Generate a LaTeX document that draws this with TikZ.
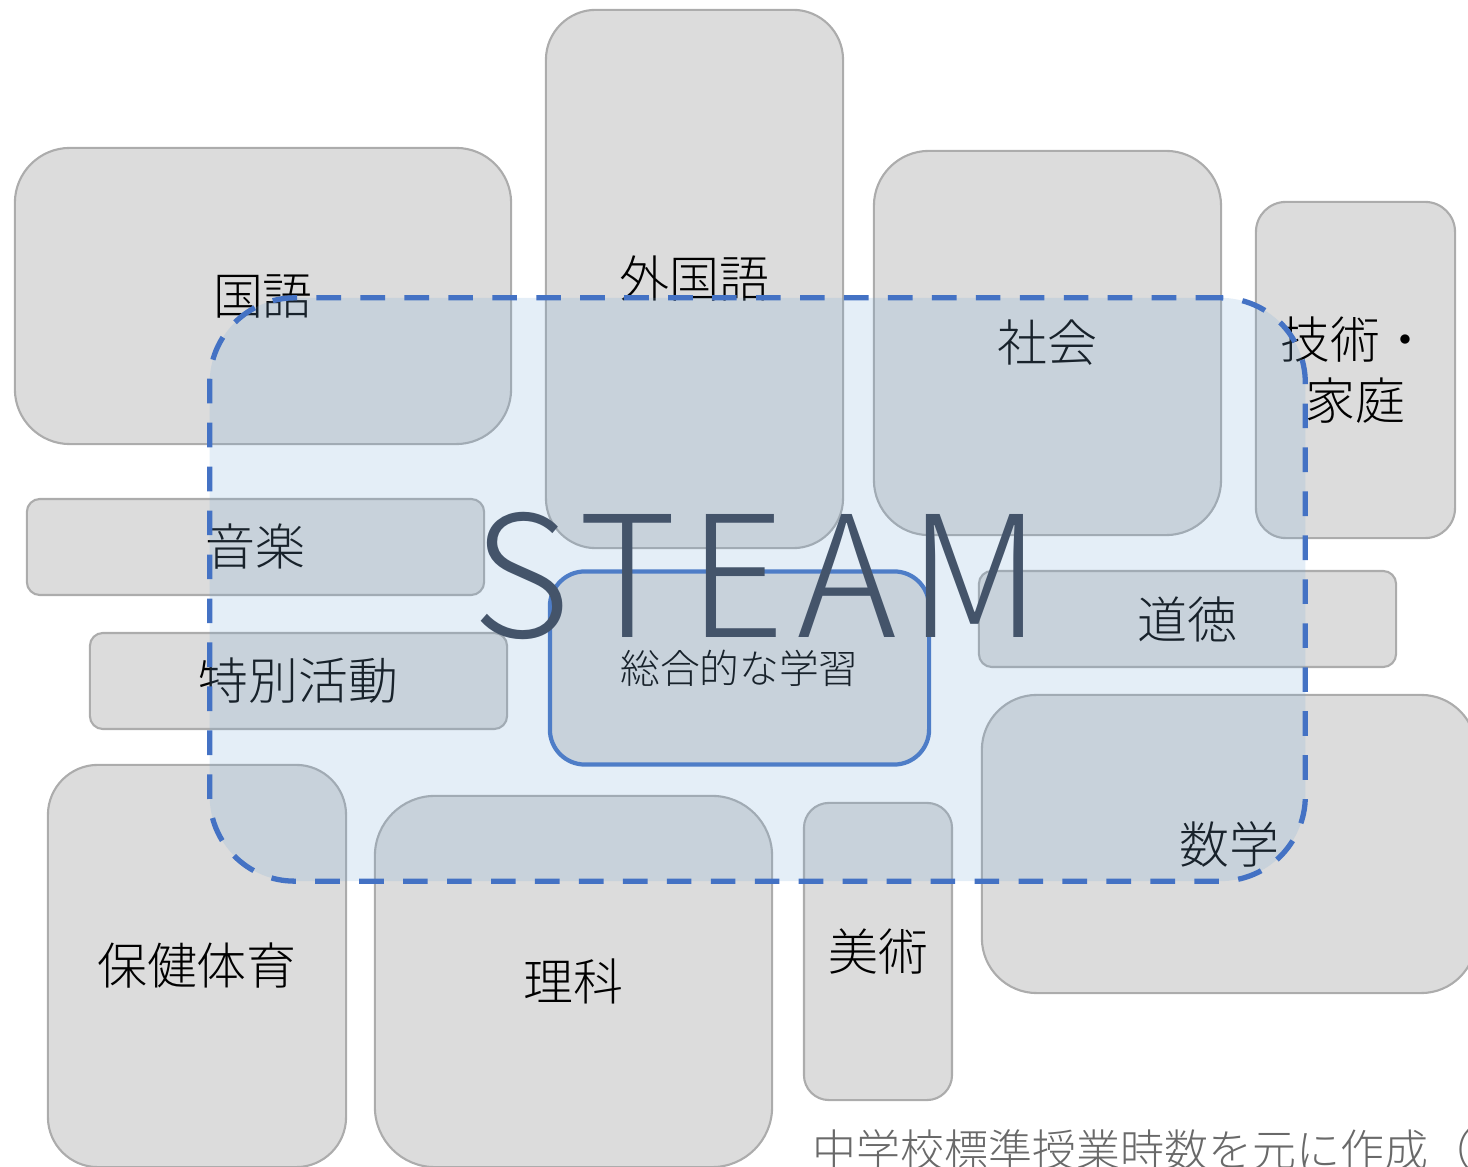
\documentclass[tikz,border=0pt]{standalone}
\usepackage{fontspec}
\setmainfont{Noto Sans CJK JP Light}
\newfontfamily\steamfont[LetterSpace=7]{Noto Sans CJK JP Light}
\definecolor{boxgray}{RGB}{220,220,220}
\definecolor{boxline}{RGB}{172,172,172}
\definecolor{steamblue}{RGB}{68,114,196}
\definecolor{steamfill}{RGB}{120,170,215}
\definecolor{steamtext}{RGB}{68,84,106}
\definecolor{notegray}{RGB}{105,105,105}

\begin{document}
\begin{tikzpicture}[x=0.01cm,y=-0.01cm,
    subject/.style={draw=boxline, line width=0.6pt, fill=boxgray, inner sep=0pt,
      font=\fontsize{14.2pt}{17.3pt}\selectfont},
    steamarea/.style={draw=steamblue, line width=1.5pt, dash pattern=on 7pt off 5.5pt,
      fill=steamfill, fill opacity=0.2, rounded corners=0.85cm, inner sep=0pt},
  ]
  \useasboundingbox (0,0) rectangle (1468,1167);

  \node[subject, minimum width=4.96cm, minimum height=2.96cm, rounded corners=0.55cm] (kokugo) at (263,296) {国語};
  \node[subject, minimum width=2.97cm, minimum height=5.38cm, rounded corners=0.5cm] (gaikokugo) at (694.5,279) {外国語};
  \node[subject, minimum width=3.47cm, minimum height=3.84cm, rounded corners=0.55cm] (shakai) at (1047.5,343) {社会};
  \node[subject, minimum width=1.99cm, minimum height=3.36cm, rounded corners=0.3cm, align=center] (gika) at (1355.5,370) {技術・\\家庭};
  \node[subject, minimum width=4.57cm, minimum height=0.96cm, rounded corners=0.13cm] (ongaku) at (255.5,547) {音楽};
  \node[subject, minimum width=4.17cm, minimum height=0.96cm, rounded corners=0.13cm] (tokkatsu) at (298.5,681) {特別活動};
  \node[subject, minimum width=4.17cm, minimum height=0.96cm, rounded corners=0.13cm] (doutoku) at (1187.5,619) {道徳};
  \node[subject, minimum width=4.94cm, minimum height=2.98cm, rounded corners=0.55cm] (suugaku) at (1229,844) {数学};
  \node[subject, minimum width=2.98cm, minimum height=4.02cm, rounded corners=0.5cm] (hoken) at (197,966) {保健体育};
  \node[subject, minimum width=3.97cm, minimum height=3.71cm, rounded corners=0.6cm] (rika) at (573.5,981.5) {理科};
  \node[subject, minimum width=1.48cm, minimum height=2.97cm, rounded corners=0.25cm] (bijutsu) at (878,951.5) {美術};
  \node[subject, draw=steamblue, line width=1.2pt, minimum width=3.79cm, minimum height=1.93cm,
    rounded corners=0.35cm, font=\fontsize{11.3pt}{13pt}\selectfont] (sougou) at (739.5,668) {総合的な学習};

  \node[steamarea, minimum width=10.95cm, minimum height=5.83cm] (steam) at (757.5,589.5) {};
  \node[text=steamtext, inner sep=0pt, font=\steamfont\fontsize{48pt}{48pt}\selectfont] (steamlabel) at (757,576) {STEAM};

  \node[anchor=west, inner sep=0pt, text=notegray, font=\fontsize{12.5pt}{15pt}\selectfont] (note) at (812,1150) {中学校標準授業時数を元に作成（};
\end{tikzpicture}
\end{document}
